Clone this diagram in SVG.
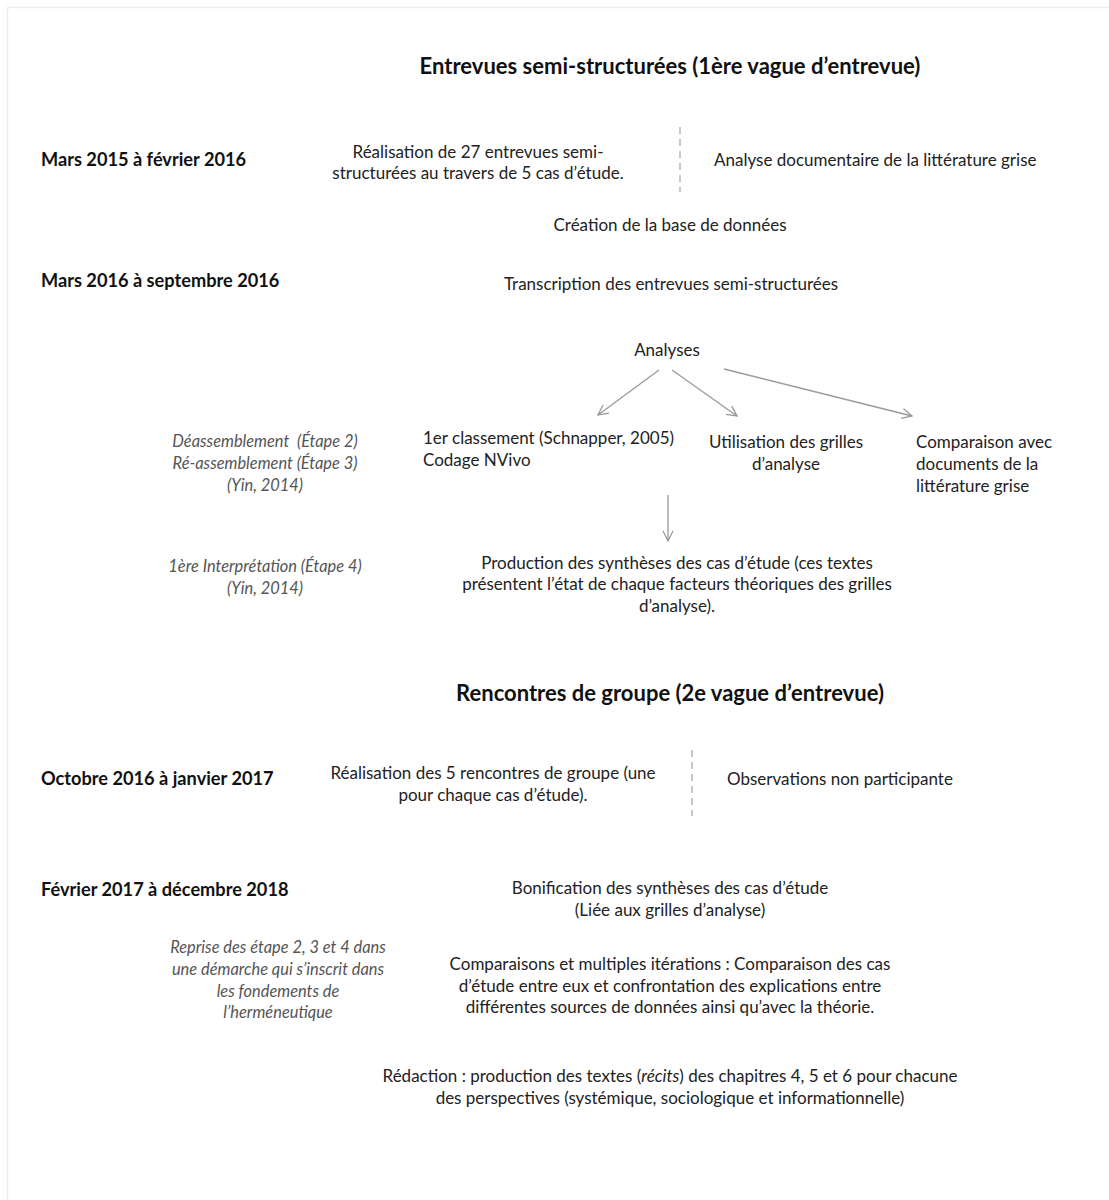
<svg xmlns="http://www.w3.org/2000/svg" width="1109" height="1200" viewBox="0 0 1109 1200">
  <style>
    .t { font-family: Lato, "Open Sans", sans-serif; font-size: 17px; fill: #222; }
    .h { font-family: Lato, "Open Sans", sans-serif; font-size: 18.2px; font-weight: bold; fill: #111; }
    .title { font-family: Lato, "Open Sans", sans-serif; font-size: 22px; font-weight: bold; fill: #111; }
    .i { font-family: Lato, "Open Sans", sans-serif; font-size: 16.4px; font-style: italic; fill: #555; }
    .c { text-anchor: middle; }
    .conn { stroke: #9a9a9a; stroke-width: 1.3; fill: none; }
    .dash { stroke: #aaa; stroke-width: 1.3; stroke-dasharray: 7 5; }
  </style>
  <defs>
    <marker id="arrow" viewBox="0 0 12 12" refX="11" refY="6" markerWidth="12" markerHeight="12" markerUnits="userSpaceOnUse" orient="auto">
      <path d="M1,1 L11,6 L1,11" fill="none" stroke="#9a9a9a" stroke-width="1.3"/>
    </marker>
  </defs>

  <rect x="0" y="0" width="1109" height="1200" fill="#fff"/>
  <path d="M7.5,1200 V7.5 H1109" fill="none" stroke="#eeeee6" stroke-width="1.5"/>

  <!-- section headings -->
  <g id="title-wave1"><text class="title c" x="670" y="74">Entrevues semi-structurées (1ère vague d’entrevue)</text></g>
  <g id="title-wave2"><text class="title c" x="670" y="701">Rencontres de groupe (2e vague d’entrevue)</text></g>

  <!-- periods -->
  <g id="period-1"><text class="h" x="41" y="166">Mars 2015 à février 2016</text></g>
  <g id="period-2"><text class="h" x="41" y="287">Mars 2016 à septembre 2016</text></g>
  <g id="period-3"><text class="h" x="41" y="785">Octobre 2016 à janvier 2017</text></g>
  <g id="period-4"><text class="h" x="41" y="896">Février 2017 à décembre 2018</text></g>

  <!-- activities -->
  <g id="entrevues">
    <text class="t c" x="478" y="158">Réalisation de 27 entrevues semi-</text>
    <text class="t c" x="478" y="179">structurées au travers de 5 cas d’étude.</text>
  </g>
  <g id="analyse-doc"><text class="t" x="714" y="166">Analyse documentaire de la littérature grise</text></g>
  <g id="base-donnees"><text class="t c" x="670" y="231">Création de la base de données</text></g>
  <g id="transcription"><text class="t c" x="671" y="290">Transcription des entrevues semi-structurées</text></g>
  <g id="analyses"><text class="t c" x="667" y="356">Analyses</text></g>

  <g id="etapes-2-3">
    <text class="i c" x="265" y="447" xml:space="preserve">Déassemblement  (Étape 2)</text>
    <text class="i c" x="265" y="469">Ré-assemblement (Étape 3)</text>
    <text class="i c" x="265" y="491">(Yin, 2014)</text>
  </g>
  <g id="classement">
    <text class="t" x="423" y="444">1er classement (Schnapper, 2005)</text>
    <text class="t" x="423" y="466">Codage NVivo</text>
  </g>
  <g id="grilles">
    <text class="t c" x="786" y="448">Utilisation des grilles</text>
    <text class="t c" x="786" y="470">d’analyse</text>
  </g>
  <g id="comparaison-docs">
    <text class="t" x="916" y="448">Comparaison avec</text>
    <text class="t" x="916" y="470">documents de la</text>
    <text class="t" x="916" y="492">littérature grise</text>
  </g>

  <g id="etape-4">
    <text class="i c" x="265" y="572">1ère Interprétation (Étape 4)</text>
    <text class="i c" x="265" y="594">(Yin, 2014)</text>
  </g>
  <g id="syntheses">
    <text class="t c" x="677" y="569">Production des synthèses des cas d’étude (ces textes</text>
    <text class="t c" x="677" y="590">présentent l’état de chaque facteurs théoriques des grilles</text>
    <text class="t c" x="677" y="612">d’analyse).</text>
  </g>

  <g id="rencontres">
    <text class="t c" x="493" y="779">Réalisation des 5 rencontres de groupe (une</text>
    <text class="t c" x="493" y="801">pour chaque cas d’étude).</text>
  </g>
  <g id="observations"><text class="t" x="727" y="785">Observations non participante</text></g>

  <g id="bonification">
    <text class="t c" x="670" y="894">Bonification des synthèses des cas d’étude</text>
    <text class="t c" x="670" y="916">(Liée aux grilles d’analyse)</text>
  </g>
  <g id="reprise">
    <text class="i c" x="278" y="953">Reprise des étape 2, 3 et 4 dans</text>
    <text class="i c" x="278" y="975">une démarche qui s’inscrit dans</text>
    <text class="i c" x="278" y="997">les fondements de</text>
    <text class="i c" x="278" y="1018">l’herméneutique</text>
  </g>
  <g id="comparaisons">
    <text class="t c" x="670" y="970">Comparaisons et multiples itérations : Comparaison des cas</text>
    <text class="t c" x="670" y="992">d’étude entre eux et confrontation des explications entre</text>
    <text class="t c" x="670" y="1013">différentes sources de données ainsi qu’avec la théorie.</text>
  </g>
  <g id="redaction">
    <text class="t c" x="670" y="1082">Rédaction : production des textes (<tspan font-style="italic">récits</tspan>) des chapitres 4, 5 et 6 pour chacune</text>
    <text class="t c" x="670" y="1104">des perspectives (systémique, sociologique et informationnelle)</text>
  </g>

  <!-- connectors -->
  <g id="connectors">
    <line class="dash" x1="680" y1="127" x2="680" y2="192"/>
    <line class="dash" x1="692" y1="750" x2="692" y2="816"/>
    <line class="conn" x1="659" y1="370" x2="598" y2="415" marker-end="url(#arrow)"/>
    <line class="conn" x1="672" y1="370" x2="737" y2="416" marker-end="url(#arrow)"/>
    <line class="conn" x1="724" y1="369" x2="912" y2="416" marker-end="url(#arrow)"/>
    <line class="conn" x1="668" y1="495" x2="668" y2="541" marker-end="url(#arrow)"/>
  </g>
</svg>
